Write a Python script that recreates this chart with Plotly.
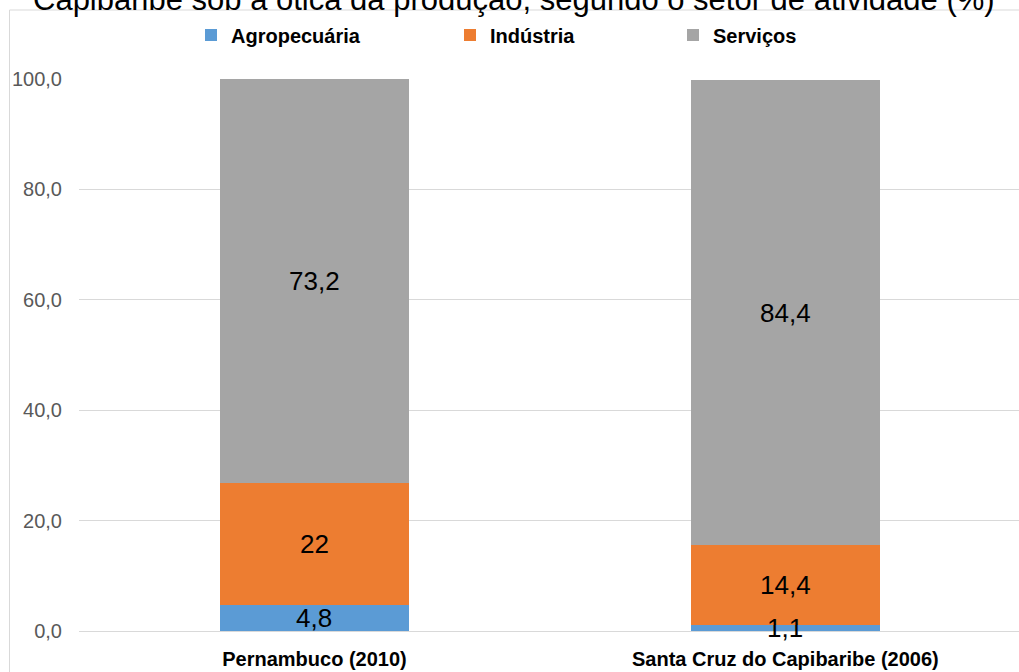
import plotly.graph_objects as go

# Participação (%) por setor de atividade
categorias = ["Pernambuco (2010)", "Santa Cruz do Capibaribe (2006)"]
agropecuaria = [4.8, 1.1]
industria = [22, 14.4]
servicos = [73.2, 84.4]

setores = [
    ("Agropecuária", agropecuaria, "#5b9bd5", "legend"),
    ("Indústria", industria, "#ed7d31", "legend2"),
    ("Serviços", servicos, "#a5a5a5", "legend3"),
]

FAMILIA = "Liberation Sans, Arial, sans-serif"


def rotulo(v):
    return f"{v:g}".replace(".", ",")


fig = go.Figure()
base = [0.0] * len(categorias)
rotulos = []
for nome, valores, cor, leg in setores:
    fig.add_trace(go.Bar(
        x=categorias,
        y=valores,
        name=nome,
        marker=dict(color=cor, line=dict(width=0)),
        width=0.4,
        legend=leg,
        hoverinfo="x+y+name",
    ))
    # value labels centred on each stacked segment
    for i, (cat, v) in enumerate(zip(categorias, valores)):
        rotulos.append(dict(
            text=rotulo(v), x=cat, y=base[i] + v / 2,
            xref="x", yref="y", xanchor="center", yanchor="middle",
            showarrow=False,
            font=dict(family=FAMILIA, size=26, color="#000000"),
        ))
        base[i] += v

L, T, B = 79, 79, 41
W, H = 1019, 672
ph = H - T - B
pw = W - L


def px_x(x):
    return (x - L) / pw


def px_y(y):
    return (H - B - y) / ph


leg_font = dict(family=FAMILIA, size=20, color="#000000", weight="bold")
leg_common = dict(orientation="h", yanchor="middle", y=px_y(35), xanchor="left",
                  font=leg_font, bgcolor="rgba(0,0,0,0)", itemwidth=30)

titulo = dict(
    text="Capibaribe sob a ótica da produção, segundo o setor de atividade (%)",
    xref="paper", yref="paper", x=px_x(514), y=px_y(-1),
    xanchor="center", yanchor="middle", showarrow=False,
    font=dict(family=FAMILIA, size=31, color="#000000"),
)

fig.update_layout(
    barmode="stack",
    width=W,
    height=H,
    margin=dict(l=L, r=0, t=T, b=B),
    paper_bgcolor="white",
    plot_bgcolor="white",
    separators=",.",
    showlegend=True,
    font=dict(family=FAMILIA),
    legend=dict(x=px_x(191), **leg_common),
    legend2=dict(x=px_x(450), **leg_common),
    legend3=dict(x=px_x(673), **leg_common),
    xaxis=dict(
        range=[-0.5, 1.496],
        showgrid=False,
        showline=False,
        ticks="outside",
        ticklen=10,
        tickcolor="rgba(0,0,0,0)",
        tickfont=dict(family=FAMILIA, size=20, color="#000000", weight="bold"),
    ),
    yaxis=dict(
        range=[0, 100],
        tickvals=[0, 20, 40, 60, 80, 100],
        tickformat=".1f",
        showgrid=True,
        gridcolor="#d9d9d9",
        gridwidth=1,
        zeroline=True,
        zerolinecolor="#d9d9d9",
        zerolinewidth=1,
        showline=False,
        ticks="outside",
        ticklen=12,
        tickcolor="rgba(0,0,0,0)",
        tickfont=dict(family=FAMILIA, size=20, color="#595959"),
    ),
    shapes=[dict(
        type="rect", xref="paper", yref="paper",
        x0=px_x(9.5), x1=1.2, y0=-0.3, y1=px_y(10),
        line=dict(color="#d9d9d9", width=1), fillcolor="rgba(0,0,0,0)",
        layer="below",
    )],
    annotations=[titulo] + rotulos,
)

fig.write_html("out.html")
